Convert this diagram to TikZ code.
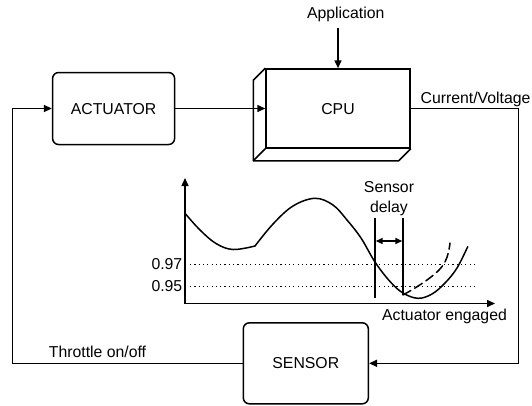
\documentclass[tikz,border=0pt]{standalone}
\usepackage{fontspec}
\setmainfont{Liberation Sans}
\usetikzlibrary{arrows.meta,calc}
\begin{document}
\begin{tikzpicture}[x=1pt,y=-1pt,
  line width=1.5pt,
  font=\fontsize{15.8}{18}\selectfont,
  arr/.style={-{Triangle[length=8pt,width=7pt]}},
  dblarr/.style={{Triangle[length=7pt,width=6pt]}-{Triangle[length=7pt,width=6pt]}},
  block/.style={draw, rounded corners=6pt, inner sep=0pt, text height=11.3pt, text depth=0pt},
  txt/.style={inner sep=0pt, text height=11.3pt, text depth=0pt},
  level/.style={line width=1pt, dash pattern=on 1.2pt off 3.1pt},
  curve/.style={line width=1.5pt, line join=round, line cap=round}
]
\useasboundingbox (0,0) rectangle (532,405);

% blocks
\node[block, minimum width=122pt, minimum height=72pt] (act) at (113.6,108.5) {ACTUATOR};
\node[draw, inner sep=0pt, text height=11.3pt, text depth=0pt,
      minimum width=144pt, minimum height=79pt] (cpu) at (338,108.5) {CPU};
\node[block, minimum width=125pt, minimum height=81pt] (sensor) at (305.8,363.3) {SENSOR};

% depth faces of the CPU box
\draw[line join=round] (cpu.north west) -- ++(-12,12)
  -- ($(cpu.south west)+(-12,12)$) -- ($(cpu.south east)+(-12,12)$) -- (cpu.south east);
\draw ($(cpu.south west)+(-12,12)$) -- (cpu.south west);

% labels
\node[txt] (app) at (345.7,13) {Application};
\node[txt] (cv) at (475.5,98.3) {Current/Voltage};
\node[txt] (thr) at (97.5,351.7) {Throttle on/off};

% feedback loop
\coordinate (appfoot) at (338,28.3);
\coordinate (rbus) at (518.5,0);
\coordinate (lbus) at (12.7,0);
\draw[arr] (appfoot) -- (cpu.north);
\draw[arr] (act.east) -- (cpu.west);
\draw[arr] (cpu.east) -- (cpu.east -| rbus) |- (sensor.east);
\draw[arr] (sensor.west) -- (sensor.west -| lbus) |- (act.west);

% response plot
\coordinate (o) at (185,303.5);
\coordinate (ytop) at (185,178);
\coordinate (xend) at (495,303.5);
\draw[arr] (o) -- (ytop);
\draw[arr] (o) -- (xend);
\node[txt] (xl) at (444.5,315) {Actuator engaged};

\draw[level] (190,264) -- (477,264);
\draw[level] (190,286) -- (477,286);
\node[txt, anchor=east] (l97) at (183,264) {0.97};
\node[txt, anchor=east] (l95) at (183,286) {0.95};

\draw[curve] plot[smooth, tension=0.6] coordinates
  {(185,213.3) (200,230) (216,243.5) (233,249.5) (255,246)};
\draw[curve] plot[smooth, tension=0.6] coordinates
  {(255,246) (273,224) (293,206) (315,198.3) (333,205) (347,220) (361,238)
   (375,262) (390,281.5) (403,293) (418,298.3) (432,294) (445,283) (457,268) (467.7,246.7)};
\draw[curve, dash pattern=on 9pt off 4.5pt] plot[smooth, tension=0.6] coordinates
  {(403,295) (415,288) (427,280) (438,271) (445,262) (448.5,252) (450,243)};

% sensor delay markers
\draw (375,218.3) -- (375,298.3);
\draw (403,218.3) -- (403,295);
\draw[dblarr] (375.7,241) -- (402.3,241);
\node[txt] (sd1) at (389,187) {Sensor};
\node[txt] (sd2) at (389,207) {delay};
\end{tikzpicture}
\end{document}
